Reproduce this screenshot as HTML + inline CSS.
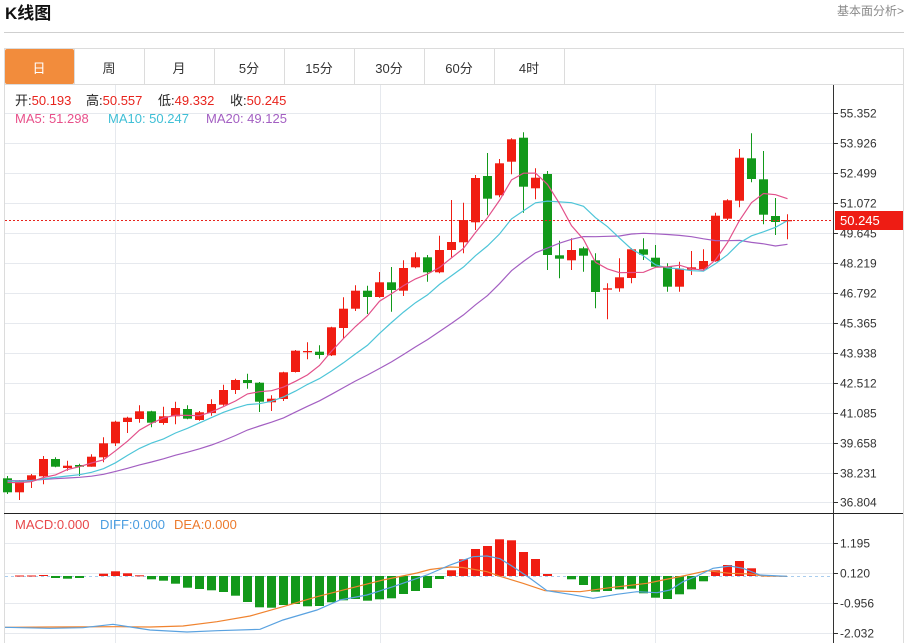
<!DOCTYPE html>
<html><head><meta charset="utf-8">
<style>
html,body{margin:0;padding:0;background:#fff;}
body{width:909px;height:643px;overflow:hidden;position:relative;font-family:"Liberation Sans","Noto Sans CJK SC",sans-serif;}
svg{position:absolute;left:0;top:0;}
text{font-family:"Liberation Sans","Noto Sans CJK SC",sans-serif;}
</style></head>
<body>
<svg id="s" width="909" height="643" viewBox="0 0 909 643" xmlns="http://www.w3.org/2000/svg">
  <!-- header -->
  <text x="5" y="19" font-size="17" font-weight="bold" fill="#111">K线图</text>
  <text x="904" y="15" font-size="12" fill="#8a8a8a" text-anchor="end">基本面分析&gt;</text>
  <line x1="4" y1="32.5" x2="904" y2="32.5" stroke="#cfcfcf"/>
  <!-- box -->
  <rect x="4.5" y="48.5" width="899" height="600" fill="none" stroke="#dcdcdc"/>
  <!-- tabs -->
  <rect x="5" y="49" width="69" height="35" rx="2" fill="#f28c3c"/>
  <g stroke="#dcdcdc">
    <line x1="74.5" y1="49" x2="74.5" y2="84"/>
    <line x1="144.5" y1="49" x2="144.5" y2="84"/>
    <line x1="214.5" y1="49" x2="214.5" y2="84"/>
    <line x1="284.5" y1="49" x2="284.5" y2="84"/>
    <line x1="354.5" y1="49" x2="354.5" y2="84"/>
    <line x1="424.5" y1="49" x2="424.5" y2="84"/>
    <line x1="494.5" y1="49" x2="494.5" y2="84"/>
    <line x1="564.5" y1="49" x2="564.5" y2="84"/>
    <line x1="4" y1="84.5" x2="903" y2="84.5"/>
  </g>
  <g font-size="13" text-anchor="middle" fill="#333">
    <text x="39" y="73" fill="#fff">日</text>
    <text x="109" y="73">周</text>
    <text x="179" y="73">月</text>
    <text x="249" y="73">5分</text>
    <text x="319" y="73">15分</text>
    <text x="389" y="73">30分</text>
    <text x="459" y="73">60分</text>
    <text x="529" y="73">4时</text>
  </g>
  <!-- grid -->
  <g stroke="#e6e9ee">
    <line x1="115.5" y1="85" x2="115.5" y2="643"/>
    <line x1="380.5" y1="85" x2="380.5" y2="643"/>
    <line x1="655.5" y1="85" x2="655.5" y2="643"/>
    <line x1="5" y1="113.5" x2="833" y2="113.5"/>
    <line x1="5" y1="143.5" x2="833" y2="143.5"/>
    <line x1="5" y1="173.5" x2="833" y2="173.5"/>
    <line x1="5" y1="203.5" x2="833" y2="203.5"/>
    <line x1="5" y1="233.5" x2="833" y2="233.5"/>
    <line x1="5" y1="263.5" x2="833" y2="263.5"/>
    <line x1="5" y1="293.5" x2="833" y2="293.5"/>
    <line x1="5" y1="323.5" x2="833" y2="323.5"/>
    <line x1="5" y1="353.5" x2="833" y2="353.5"/>
    <line x1="5" y1="383.5" x2="833" y2="383.5"/>
    <line x1="5" y1="413.5" x2="833" y2="413.5"/>
    <line x1="5" y1="443.5" x2="833" y2="443.5"/>
    <line x1="5" y1="473.5" x2="833" y2="473.5"/>
    <line x1="5" y1="502.5" x2="833" y2="502.5"/>
    <line x1="5" y1="543.5" x2="833" y2="543.5"/>
    <line x1="5" y1="573.5" x2="833" y2="573.5"/>
    <line x1="5" y1="603.5" x2="833" y2="603.5"/>
    <line x1="5" y1="633.5" x2="833" y2="633.5"/>
  </g>
  <!-- macd zero line -->
  <line x1="5" y1="576.5" x2="833" y2="576.5" stroke="#a9cdee" stroke-dasharray="3,3"/>
  <!-- candles & MA -->
  <g id="cand"></g>
  <g id="ma" fill="none" stroke-width="1.2"></g>
  <!-- current price line -->
  <line x1="5" y1="220.5" x2="833" y2="220.5" stroke="#e8231c" stroke-dasharray="2,2"/>
  <!-- MACD -->
  <g id="hist"></g>
  <polyline fill="none" stroke="#f0832f" stroke-width="1.2" points="5,627.3 50,627 117,626.7 150,627 183,626 217,621.7 250,616 283,606.7 317,596.7 350,588.3 383,580 417,573 430,569.5 450,567 463,567.5 487,571.7 500,576.3 523,583.3 545,590.7 580,591.7 613,587.3 647,583.3 663,580 683,576 707,570.7 730,573.3 750,574 763,576 787,576.3"/>
  <polyline fill="none" stroke="#5aa2e0" stroke-width="1.2" points="5,627.3 50,628.3 83,627.7 113,624.3 150,630 187,632 217,630.7 260,629.3 283,620 317,610 340,600 367,595 393,586.7 427,575 450,565 473,556.7 487,556 500,558.7 513,566.7 530,578.3 547,590.7 570,594.3 593,598.3 617,594.3 637,591.7 657,592.7 670,590 683,581.7 697,576 713,568.3 730,566 743,568.3 760,575 787,576.3"/>
  <!-- divider -->
  <line x1="4" y1="513.5" x2="903" y2="513.5" stroke="#222"/>
  <!-- axis -->
  <line x1="833.5" y1="85" x2="833.5" y2="643" stroke="#333"/>
  <g stroke="#333">
    <line x1="833" y1="113.5" x2="838" y2="113.5"/>
    <line x1="833" y1="143.5" x2="838" y2="143.5"/>
    <line x1="833" y1="173.5" x2="838" y2="173.5"/>
    <line x1="833" y1="203.5" x2="838" y2="203.5"/>
    <line x1="833" y1="233.5" x2="838" y2="233.5"/>
    <line x1="833" y1="263.5" x2="838" y2="263.5"/>
    <line x1="833" y1="293.5" x2="838" y2="293.5"/>
    <line x1="833" y1="323.5" x2="838" y2="323.5"/>
    <line x1="833" y1="353.5" x2="838" y2="353.5"/>
    <line x1="833" y1="383.5" x2="838" y2="383.5"/>
    <line x1="833" y1="413.5" x2="838" y2="413.5"/>
    <line x1="833" y1="443.5" x2="838" y2="443.5"/>
    <line x1="833" y1="473.5" x2="838" y2="473.5"/>
    <line x1="833" y1="502.5" x2="838" y2="502.5"/>
    <line x1="833" y1="543.5" x2="838" y2="543.5"/>
    <line x1="833" y1="573.5" x2="838" y2="573.5"/>
    <line x1="833" y1="603.5" x2="838" y2="603.5"/>
    <line x1="833" y1="633.5" x2="838" y2="633.5"/>
  </g>
  <g font-size="12" fill="#333">
    <text x="840" y="117.5">55.352</text>
    <text x="840" y="147.5">53.926</text>
    <text x="840" y="177.5">52.499</text>
    <text x="840" y="207.5">51.072</text>
    <text x="840" y="237.5">49.645</text>
    <text x="840" y="267.5">48.219</text>
    <text x="840" y="297.5">46.792</text>
    <text x="840" y="327.5">45.365</text>
    <text x="840" y="357.5">43.938</text>
    <text x="840" y="387.5">42.512</text>
    <text x="840" y="417.5">41.085</text>
    <text x="840" y="447.5">39.658</text>
    <text x="840" y="477.5">38.231</text>
    <text x="840" y="506.5">36.804</text>
    <text x="840" y="547.5">1.195</text>
    <text x="840" y="577.5">0.120</text>
    <text x="840" y="607.5">-0.956</text>
    <text x="840" y="637.5">-2.032</text>
  </g>
  <!-- price tag -->
  <rect x="835" y="211" width="68" height="19" fill="#ee1c14"/>
  <text x="840" y="225" font-size="13" fill="#fff">50.245</text>
  <!-- legends -->
  <g font-size="13">
    <text x="15" y="105" fill="#222">开:<tspan fill="#e8231c">50.193</tspan></text>
    <text x="86" y="105" fill="#222">高:<tspan fill="#e8231c">50.557</tspan></text>
    <text x="158" y="105" fill="#222">低:<tspan fill="#e8231c">49.332</tspan></text>
    <text x="230" y="105" fill="#222">收:<tspan fill="#e8231c">50.245</tspan></text>
    <text x="15" y="123" fill="#e8508a">MA5: 51.298</text>
    <text x="108" y="123" fill="#3fbfd6">MA10: 50.247</text>
    <text x="206" y="123" fill="#a35fc2">MA20: 49.125</text>
    <text x="15" y="529" fill="#e8474a">MACD:0.000</text>
    <text x="100" y="529" fill="#4a9de0">DIFF:0.000</text>
    <text x="174" y="529" fill="#ec7a2c">DEA:0.000</text>
  </g>
</svg>
<script>
(function(){
var D=[
['g',478.3,492.3,476,494],['r',481,492.3,480,500],['r',475.3,480.7,474,488],['r',459,476.3,456,484.3],
['g',459,466.7,457.3,467.3],['r',465.7,468,460.7,470.7],['g',465,466.7,463.7,476],['r',456.7,466.7,454.3,466.7],
['r',443.3,457.3,437.3,462.3],['r',421.7,443.3,420.7,446],['r',417.7,422,416.7,433],['r',411.3,419,405.3,422.7],
['g',411.3,422.7,410.7,427.3],['r',416.3,423,406.7,424.7],['r',408,416.3,401.7,424.3],['g',409,418.7,405.3,419.3],
['r',412.3,420,411,420.7],['r',404,413,399.3,415.7],['r',390,404.7,384.7,405.7],['r',380,390,378.7,394],
['g',380,383,373.7,388.7],['g',382.7,401.7,382,412],['r',398.7,402.3,395.3,411],['r',372.3,399,371.7,401],
['r',350.7,372,350,372.5],['r',351,352.3,342.3,359.3],['g',351.7,355,345.3,358.7],['r',327.3,355.3,326.7,356],
['r',308.7,328,297.3,338.3],['r',290.7,308.7,285.3,311],['g',290.7,297,285.7,314],['r',282.3,297,272,297.7],
['g',282.3,290,267,311.7],['r',268,290.7,260.3,296],['r',257.3,267.3,252.3,268.3],['g',257.3,272.3,255,281.7],
['r',250,272.3,235.7,273.3],['r',242,250,200,257.3],['r',220,242.3,202.7,253.3],['r',178,222.3,175,230],
['g',176,198.7,153,215.3],['r',163.3,195.3,159,197.3],['r',139.3,161.7,138.3,174.3],['g',137.7,186.7,132.3,212.7],
['r',177.7,188.3,168.3,199.3],['g',174,255,171,270],['g',255.3,258.7,240.7,278.3],['r',250,260.3,238.3,270],
['g',248.3,255.7,246.7,271.7],['g',260.3,292,253.3,308.3],['r',288.3,289.7,283.3,319.3],['r',277.3,288.3,258.3,291.7],
['r',249.3,278,248.3,283.3],['g',249.3,254.7,238.3,260],['g',257.7,266.7,245,267.3],['g',266.7,286.7,263.3,291.7],
['r',268.7,286.7,261.7,291.7],['r',267.3,269.7,251,275],['r',261,269,249.3,270],['r',215.7,261.3,212.7,261.7],
['r',200.3,218.7,199.3,220],['r',157.7,200.7,149,207.3],['g',158.3,179,133.3,182.3],['g',179.3,214.7,151,224.3],
['g',216,222,198,235],['r',220,221.3,214.3,239.3]
];
var H=[576,575.5,575.5,575,578,578.7,578,576,573.7,571.3,573.3,575.3,579.3,580.7,583.7,587.7,589,590.3,592,595.7,
602,607.3,607.7,605,604,606.3,606,602.3,600.3,599,600.7,599.3,598.3,594,591,588,579,570.3,559.3,549,
546,539.3,540.3,552,559,574,576,579.3,585,591.7,591,589.3,588.7,593.3,597.7,599,594.3,589.3,581.3,570.3,
565,561,568.3,576,576,576];
var RED='#f01d12',GRN='#12991a';
var s='';
var closes=[];
for(var i=0;i<D.length;i++){
  var d=D[i],cx=7.5+12*i,col=d[0]=='r'?RED:GRN;
  s+='<line x1="'+cx+'" x2="'+cx+'" y1="'+d[3]+'" y2="'+d[4]+'" stroke="'+col+'"/>';
  s+='<rect x="'+(cx-4.5)+'" y="'+d[1]+'" width="9" height="'+Math.max(1,d[2]-d[1])+'" fill="'+col+'"/>';
  closes.push(d[0]=='r'?d[1]:d[2]);
}
document.getElementById('cand').innerHTML=s;
function ma(n){
  var pts=[];
  for(var i=0;i<closes.length;i++){
    var sum=0;
    for(var k=i-n+1;k<=i;k++){sum+=(k<0?480:closes[k]);}
    pts.push((7.5+12*i)+','+(sum/n).toFixed(1));
  }
  return pts.join(' ');
}
var m='';
m+='<polyline points="'+ma(20)+'" stroke="#a35fc2"/>';
m+='<polyline points="'+ma(10)+'" stroke="#4ec5d8"/>';
m+='<polyline points="'+ma(5)+'" stroke="#e2508a"/>';
document.getElementById('ma').innerHTML=m;
var h='';
for(var i=0;i<H.length;i++){
  var cx=7.5+12*i,v=H[i],base=576;
  if(Math.abs(v-base)<0.4)continue;
  var top=Math.min(v,base),ht=Math.max(1,Math.abs(v-base));
  h+='<rect x="'+(cx-4.5)+'" y="'+top+'" width="9" height="'+ht+'" fill="'+(v<base?RED:GRN)+'"/>';
}
document.getElementById('hist').innerHTML=h;
})();
</script>
</body></html>
